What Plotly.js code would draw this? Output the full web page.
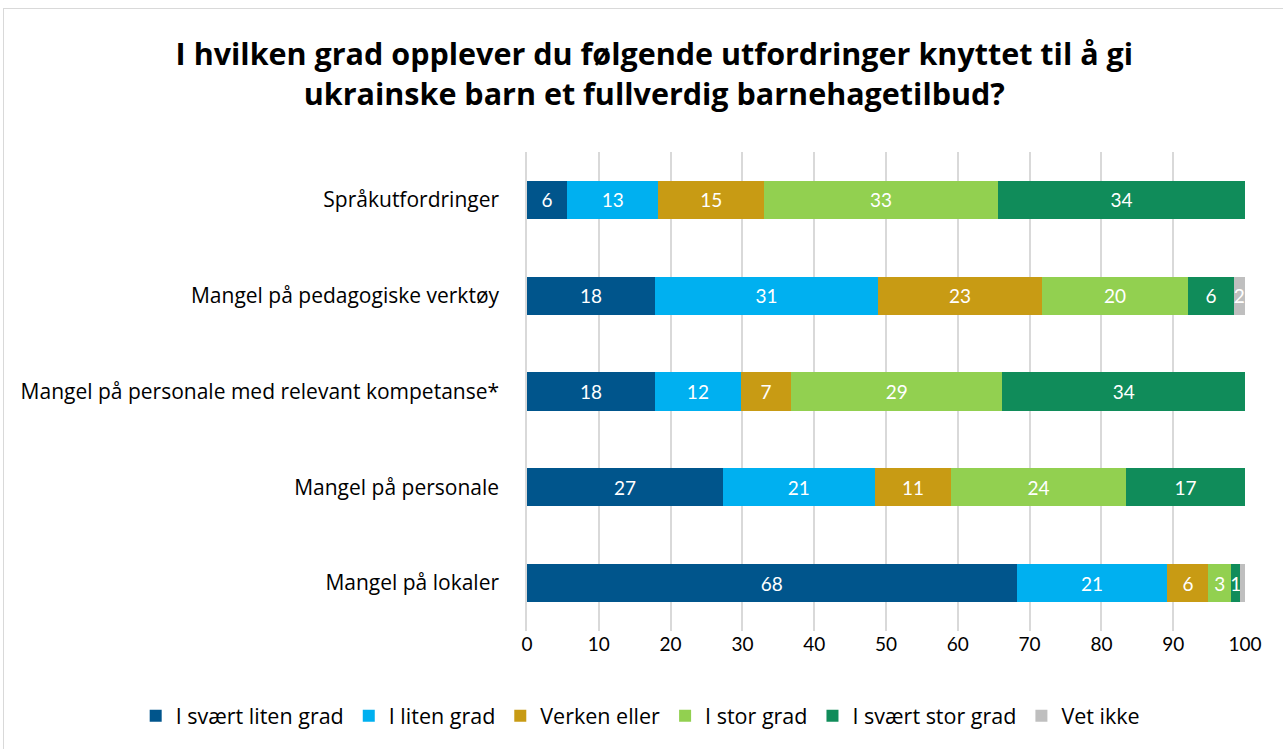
<!DOCTYPE html>
<html>
<head>
<meta charset="utf-8">
<script src="https://cdn.plot.ly/plotly-3.0.1.min.js"></script>
<style>
html,body{margin:0;padding:0;background:#fff;}
#frame{position:absolute;left:3px;top:8px;width:1290px;height:760px;border:1px solid #d9d9d9;box-sizing:border-box;}
#chart{position:absolute;left:0;top:0;width:1283px;height:749px;}
</style>
</head>
<body>
<div id="frame"></div>
<div id="chart"></div>
<script>
const categories = [
  "Språkutfordringer",
  "Mangel på pedagogiske verktøy",
  "Mangel på personale med relevant kompetanse*",
  "Mangel på personale",
  "Mangel på lokaler"
];
const seriesNames = ["I svært liten grad", "I liten grad", "Verken eller", "I stor grad", "I svært stor grad", "Vet ikke"];
const sværtLiten = [5.6, 17.8, 17.8, 27.3, 68.2];
const liten      = [12.7, 31.1, 12.0, 21.1, 21.0];
const verken     = [14.7, 22.8, 7.0, 10.7, 5.7];
const stor       = [32.6, 20.4, 29.4, 24.3, 3.2];
const sværtStor  = [34.4, 6.3, 33.8, 16.6, 1.2];
const vetIkke    = [0, 1.6, 0, 0, 0.7];
const colors = ["#00558C", "#00B0F0", "#C89B14", "#92D050", "#108C5A", "#BFBFBF"];
const xTicks = [0,10,20,30,40,50,60,70,80,90,100];

const allSeries = [sværtLiten, liten, verken, stor, sværtStor, vetIkke];
const NUMFONT = "Lato, 'Open Sans', sans-serif";
const TXTFONT = "'Open Sans', Lato, sans-serif";

const traces = allSeries.map((vals, i) => ({
  type: "bar",
  orientation: "h",
  name: seriesNames[i],
  y: categories,
  x: vals,
  marker: {color: colors[i], line: {width: 0}},
  text: vals.map(v => v >= 1 ? String(Math.round(v)) : ""),
  texttemplate: "%{text}",
  textposition: "inside",
  insidetextanchor: "middle",
  textangle: 0,
  constraintext: "none",
  cliponaxis: true,
  insidetextfont: {color: "#ffffff", size: 19, family: NUMFONT},
  hoverinfo: "x+name"
}));

const layout = {
  width: 1283,
  height: 749,
  barmode: "stack",
  bargap: 0.6,
  paper_bgcolor: "rgba(0,0,0,0)",
  plot_bgcolor: "rgba(0,0,0,0)",
  margin: {l: 527, r: 38, t: 152, b: 118},
  font: {family: TXTFONT, size: 19, color: "#000"},
  title: {
    text: "<b>I hvilken grad opplever du følgende utfordringer knyttet til å gi<br>ukrainske barn et fullverdig barnehagetilbud?</b>",
    font: {family: TXTFONT, size: 30.5, color: "#000"},
    x: 0.51, xanchor: "center",
    y: 0.913, yanchor: "middle", yref: "container"
  },
  xaxis: {
    range: [0, 100],
    tickvals: xTicks,
    ticktext: xTicks.map(String),
    showgrid: true,
    gridcolor: "#d9d9d9",
    gridwidth: 1.5,
    zeroline: false,
    showline: false,
    ticks: "",
    tickfont: {size: 19, color: "#000", family: NUMFONT},
    fixedrange: true
  },
  yaxis: {
    categoryorder: "array",
    categoryarray: categories.slice().reverse(),
    autorange: true,
    showline: true,
    linecolor: "#d9d9d9",
    linewidth: 1.5,
    ticks: "",
    ticklabelstandoff: 22,
    tickfont: {size: 21, color: "#000", family: TXTFONT},
    fixedrange: true
  },
  legend: {
    orientation: "h",
    xref: "paper",
    x: -0.545, xanchor: "left",
    y: -0.177, yanchor: "middle", yref: "paper",
    font: {size: 21.5, color: "#000", family: TXTFONT},
    traceorder: "normal",
    itemwidth: 30,
    itemclick: false
  },
  showlegend: true
};

Plotly.newPlot("chart", traces, layout, {displayModeBar: false, responsive: false});
</script>
</body>
</html>
